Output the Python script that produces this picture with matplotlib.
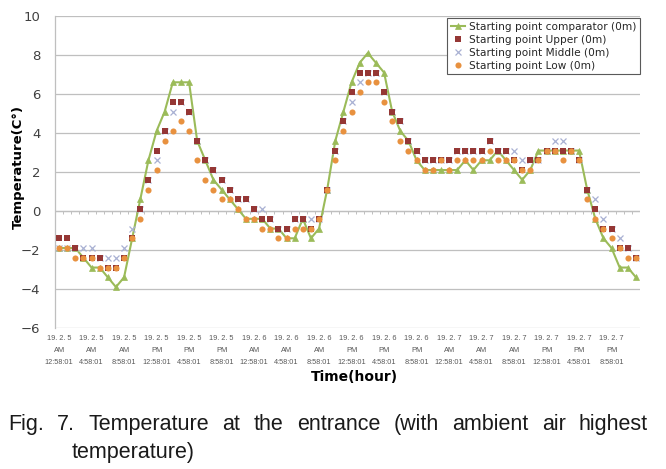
import matplotlib
matplotlib.use('Agg')
import matplotlib.pyplot as plt
from matplotlib import font_manager
import numpy as np

# ---------------- data ----------------
comparator = [-1.9, -1.9, -1.9, -2.4, -2.9, -2.9, -3.4, -3.9, -3.4, -1.4,
              0.6, 2.6, 4.1, 5.1, 6.6, 6.6, 6.6, 3.6, 2.6, 1.6,
              1.1, 0.6, 0.1, -0.4, -0.4, -0.4, -0.9, -0.9, -1.4, -1.4,
              -0.4, -1.4, -0.9, 1.1, 3.6, 5.1, 6.6, 7.6, 8.1, 7.6,
              7.1, 5.1, 4.1, 3.6, 2.6, 2.1, 2.1, 2.1, 2.1, 2.1,
              2.6, 2.1, 2.6, 2.6, 3.1, 2.6, 2.1, 1.6, 2.1, 3.1,
              3.1, 3.1, 3.1, 3.1, 3.1, 1.1, -0.4, -1.4, -1.9, -2.9,
              -2.9, -3.4]
upper = [-1.4, -1.4, -1.9, -2.4, -2.4, -2.4, -2.9, -2.9, -2.4, -1.4,
         0.1, 1.6, 3.1, 4.1, 5.6, 5.6, 5.1, 3.6, 2.6, 2.1,
         1.6, 1.1, 0.6, 0.6, 0.1, -0.4, -0.4, -0.9, -0.9, -0.4,
         -0.4, -0.9, -0.4, 1.1, 3.1, 4.6, 6.1, 7.1, 7.1, 7.1,
         6.1, 5.1, 4.6, 3.6, 3.1, 2.6, 2.6, 2.6, 2.6, 3.1,
         3.1, 3.1, 3.1, 3.6, 3.1, 3.1, 2.6, 2.1, 2.6, 2.6,
         3.1, 3.1, 3.1, 3.1, 2.6, 1.1, 0.1, -0.9, -0.9, -1.9,
         -1.9, -2.4]
middle = [-1.9, -1.9, -1.9, -1.9, -1.9, -2.4, -2.4, -2.4, -1.9, -0.9,
          0.1, 1.6, 2.6, 4.1, 5.1, 5.6, 5.1, 3.6, 2.6, 2.1,
          1.6, 1.1, 0.6, 0.6, 0.1, 0.1, -0.4, -0.9, -0.9, -0.4,
          -0.4, -0.4, -0.4, 1.1, 3.1, 4.6, 5.6, 6.6, 7.1, 7.1,
          6.1, 5.1, 4.6, 3.6, 3.1, 2.6, 2.6, 2.6, 2.6, 3.1,
          3.1, 3.1, 3.1, 3.6, 3.1, 3.1, 3.1, 2.6, 2.6, 2.6,
          3.1, 3.6, 3.6, 3.1, 2.6, 1.1, 0.6, -0.4, -0.9, -1.4,
          -1.9, -2.4]
low = [-1.9, -1.9, -2.4, -2.4, -2.4, -2.9, -2.9, -2.9, -2.4, -1.4,
       -0.4, 1.1, 2.1, 3.6, 4.1, 4.6, 4.1, 2.6, 1.6, 1.1,
       0.6, 0.6, 0.1, -0.4, -0.4, -0.9, -0.9, -1.4, -1.4, -0.9,
       -0.9, -0.9, -0.4, 1.1, 2.6, 4.1, 5.1, 6.1, 6.6, 6.6,
       5.6, 4.6, 3.6, 3.1, 2.6, 2.1, 2.1, 2.6, 2.1, 2.6,
       2.6, 2.6, 2.6, 3.1, 2.6, 2.6, 2.6, 2.1, 2.1, 2.6,
       3.1, 3.1, 2.6, 3.1, 2.6, 0.6, -0.4, -0.9, -1.4, -1.9,
       -2.4, -2.4]

series_names = ["Starting point comparator (0m)", "Starting point Upper (0m)",
                "Starting point Middle (0m)", "Starting point Low (0m)"]

tick_dates = ["19. 2. 5"] * 6 + ["19. 2. 6"] * 6 + ["19. 2. 7"] * 6
tick_ampm = ["AM", "AM", "AM", "PM", "PM", "PM"] * 3
tick_times = ["12:58:01", "4:58:01", "8:58:01", "12:58:01", "4:58:01", "8:58:01"] * 3
tick_labels = [f"{d}\n{a}\n{t}" for d, a, t in zip(tick_dates, tick_ampm, tick_times)]

y_label = "Temperature(C°)"
x_label = "Time(hour)"
caption1 = "Fig. 7. Temperature at the entrance (with ambient air highest"
caption2 = "temperature)"

# ---------------- fonts ----------------
names = {f.name for f in font_manager.fontManager.ttflist}
main_font = ['Noto Sans CJK KR', 'DejaVu Sans'] if 'Noto Sans CJK KR' in names else ['DejaVu Sans']
narrow = 'Liberation Sans Narrow' if 'Liberation Sans Narrow' in names else 'Liberation Sans'
plt.rcParams['font.family'] = main_font

W, H = 666, 469
fig = plt.figure(figsize=(W / 100, H / 100), dpi=100)
L, R, T, B = 55, 640, 16, 328
ax = fig.add_axes([L / W, 1 - B / H, (R - L) / W, (B - T) / H])

x = np.arange(len(comparator))

ax.plot(x, comparator, color='#9BBB59', lw=1.5, marker='^', ms=3.8,
        markeredgewidth=0.5, zorder=3, label=series_names[0])
ax.plot(x, upper, ls='none', marker='s', color='#953735', ms=4.4,
        markeredgewidth=0, zorder=4, label=series_names[1])
ax.plot(x, middle, ls='none', marker='x', color='#A9B1D3', ms=4.0,
        markeredgewidth=0.9, zorder=3.5, label=series_names[2])
ax.plot(x, low, ls='none', marker='o', color='#E8913F', ms=4.4,
        markeredgewidth=0, zorder=5, label=series_names[3])

ax.set_xlim(-0.5, len(comparator) - 0.5)
ax.set_ylim(-6, 10)
ax.set_yticks(np.arange(-6, 11, 2))
ax.yaxis.grid(True, color='#BFBFBF', lw=0.9)
ax.set_axisbelow(True)
for s in ['top', 'right', 'bottom']:
    ax.spines[s].set_visible(False)
ax.spines['left'].set_color('#BFBFBF')
ax.spines['left'].set_linewidth(0.9)

# horizontal category axis crossing at zero, with its tick marks
ax.axhline(0, color='#BFBFBF', lw=0.9, zorder=1)
ax.vlines(np.arange(-0.5, len(comparator), 1), -0.17, 0, color='#BFBFBF', lw=0.7, zorder=1)

ax.tick_params(axis='y', length=0, pad=10.5, labelsize=9.5, labelcolor='#404040')
ax.set_xticks(x[::4])
ax.set_xticklabels(tick_labels, fontsize=5.3, color='#595959', linespacing=2.05,
                   family=[narrow, 'DejaVu Sans'])
ax.tick_params(axis='x', length=0, pad=5)

fig.text(18 / W, 1 - 167 / H, y_label, rotation=90, ha='center', va='center',
         fontsize=9.5, fontweight='bold', color='#000000')
fig.text(354 / W, 1 - 377 / H, x_label, ha='center', va='center',
         fontsize=10, fontweight='bold', color='#000000')

leg = ax.legend(loc='upper left', bbox_to_anchor=((447 - L) / (R - L), (B - 18) / (B - T)),
                fontsize=7.6, frameon=True, fancybox=False, framealpha=1,
                edgecolor='#595959', borderpad=0.35, labelspacing=0.28,
                handlelength=1.4, handletextpad=0.3, borderaxespad=0)
leg.get_frame().set_linewidth(0.8)
for t in leg.get_texts():
    t.set_color('#262626')

# caption, justified across the width
renderer = fig.canvas.get_renderer()
cap_fs = 15 if narrow == 'Liberation Sans Narrow' else 15.5
words = caption1.split(' ')
widths = []
for w in words:
    t = fig.text(0, 0, w, fontsize=cap_fs, family=narrow)
    widths.append(t.get_window_extent(renderer).width)
    t.remove()
x0, x1 = 8, 648
gap = (x1 - x0 - sum(widths)) / (len(words) - 1)
xp = x0
for w, wd in zip(words, widths):
    fig.text(xp / W, 1 - 424 / H, w, fontsize=cap_fs, family=narrow,
             ha='left', va='center', color='#1a1a1a')
    xp += wd + gap
fig.text(72 / W, 1 - 452 / H, caption2, fontsize=cap_fs, family=narrow,
         ha='left', va='center', color='#1a1a1a')

fig.savefig('out.png', dpi=100)
